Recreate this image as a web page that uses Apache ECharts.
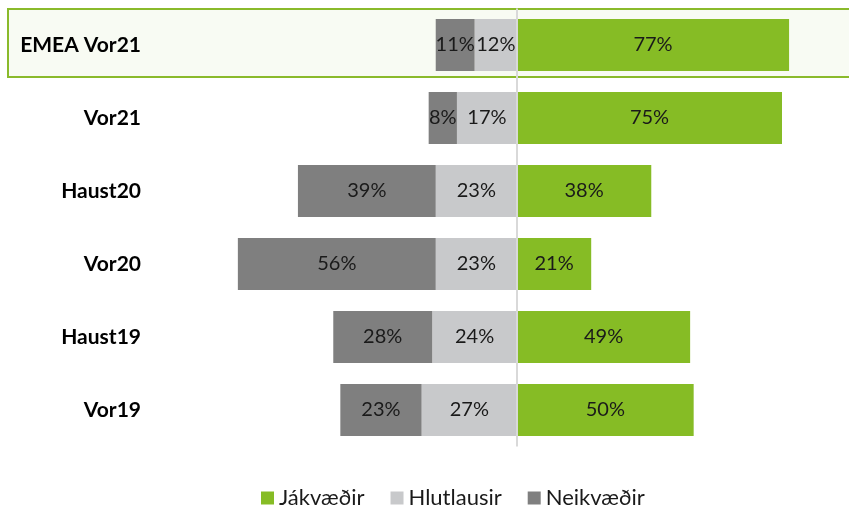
<!DOCTYPE html>
<html>
<head>
<meta charset="utf-8">
<script src="https://cdn.jsdelivr.net/npm/echarts@6/dist/echarts.min.js"></script>
<style>
  html, body { margin: 0; padding: 0; background: #fff; }
  #chart { width: 849px; height: 507px; }
</style>
</head>
<body>
<div id="chart"></div>
<script>
// tímabil, efst fyrst
var categories = ['EMEA Vor21', 'Vor21', 'Haust20', 'Vor20', 'Haust19', 'Vor19'];
var jakvaedir = [77, 75, 38, 21, 49, 50];
var hlutlausir = [12, 17, 23, 23, 24, 27];
var neikvaedir = [11, 8, 39, 56, 28, 23];

var FONT = 'Lato, "Open Sans", sans-serif';

var myChart = echarts.init(document.getElementById('chart'));

function pct(p) {
    return Math.abs(p.value) + '%';
}

var labelStyle = {
    show: true,
    position: 'inside',
    formatter: pct,
    color: '#1a1a1a',
    fontSize: 20,
    fontFamily: FONT
};

var option = {
    animation: false,
    graphic: [{
        type: 'rect',
        z: -10,
        shape: { x: 8, y: 9, width: 860, height: 68 },
        style: { fill: '#f8fbf3', stroke: '#8aba2b', lineWidth: 2 }
    }],
    grid: {
        left: 199, top: 8.5, width: 636, height: 438,
        containLabel: false,
        outerBoundsMode: 'none'
    },
    legend: {
        top: 482,
        left: 256,
        itemWidth: 13,
        itemHeight: 13,
        itemGap: 26,
        icon: 'rect',
        textStyle: { fontSize: 22, color: '#1a1a1a', fontFamily: FONT },
        data: ['Jákvæðir', 'Hlutlausir', 'Neikvæðir']
    },
    xAxis: {
        type: 'value',
        min: -90,
        max: 90,
        show: false
    },
    yAxis: {
        type: 'category',
        data: categories,
        inverse: true,
        axisLine: { show: false },
        axisTick: { show: false },
        axisLabel: {
            margin: 58,
            fontSize: 21,
            fontWeight: 'bold',
            color: '#000',
            fontFamily: FONT
        }
    },
    series: [
        {
            name: 'Jákvæðir',
            type: 'bar',
            stack: 'all',
            barWidth: 52,
            data: jakvaedir,
            itemStyle: { color: '#86bc25' },
            label: labelStyle,
            markLine: {
                silent: true,
                symbol: 'none',
                label: { show: false },
                lineStyle: { color: '#d9d9d9', width: 2, type: 'solid' },
                data: [{ xAxis: 0 }]
            }
        },
        {
            name: 'Hlutlausir',
            type: 'bar',
            stack: 'all',
            barWidth: 52,
            data: hlutlausir.map(function (v) { return -v; }),
            itemStyle: { color: '#c8c9cb' },
            label: labelStyle
        },
        {
            name: 'Neikvæðir',
            type: 'bar',
            stack: 'all',
            barWidth: 52,
            data: neikvaedir.map(function (v) { return -v; }),
            itemStyle: { color: '#7f7f7f' },
            label: labelStyle
        }
    ]
};

myChart.setOption(option);
</script>
</body>
</html>
